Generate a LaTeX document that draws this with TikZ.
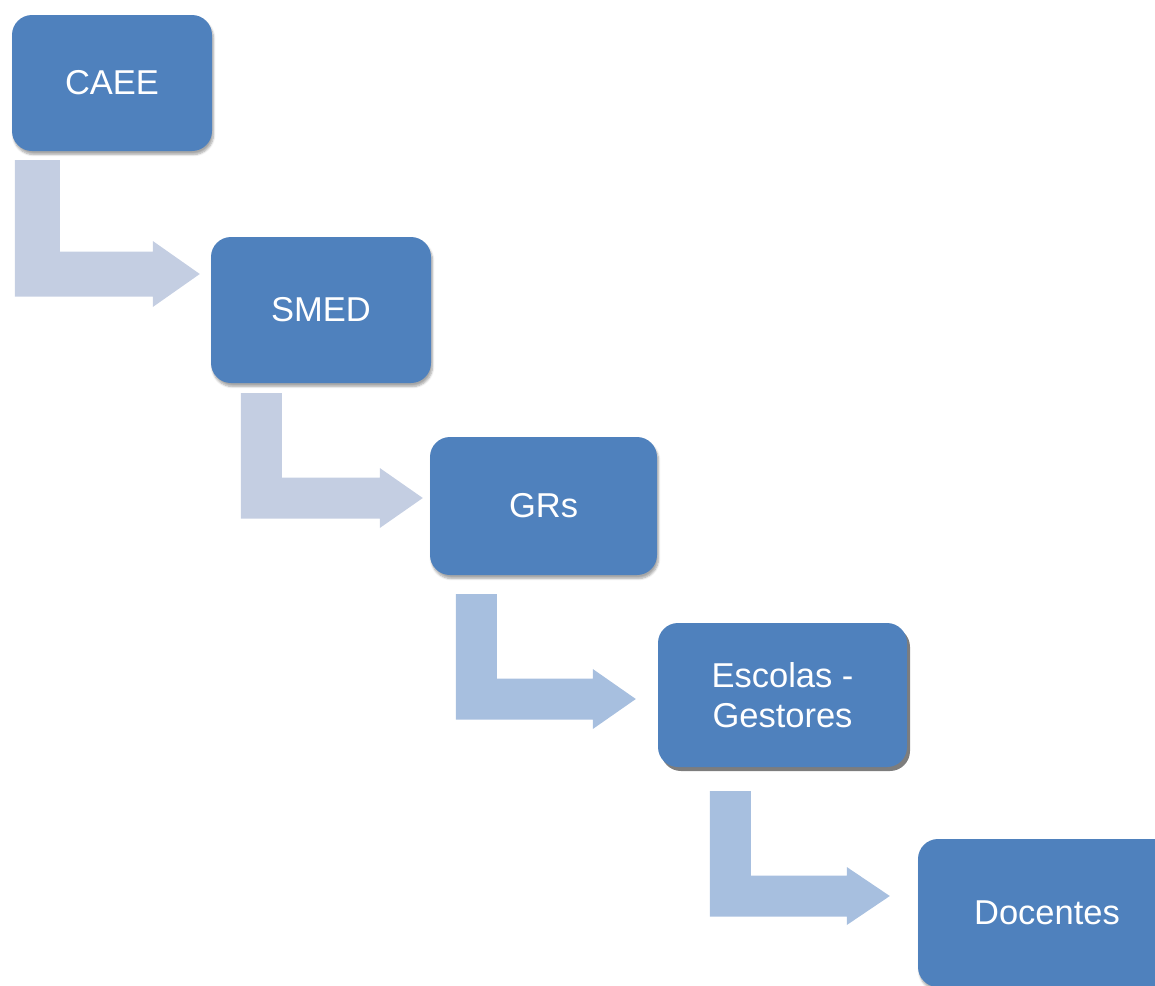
\documentclass[tikz,border=0pt]{standalone}
\usepackage{fontspec}
\setmainfont{Liberation Sans}
\usepackage{tikz}
\usetikzlibrary{calc}
\usetikzlibrary{shadows,shadows.blur}
\definecolor{boxblue}{RGB}{79,129,189}
\definecolor{arrowpale}{RGB}{196,206,226}
\definecolor{arrowblue}{RGB}{167,191,223}
\tikzset{
    % 蓝色圆角方框
    stepbox/.style={
        rectangle,
        rounded corners=20pt,
        fill=boxblue,
        text=white,
        align=center,
        inner sep=0pt,
        font=\fontsize{34.5}{40}\selectfont
    },
    softshadow/.style={
        blur shadow={shadow xshift=1.5pt, shadow yshift=-3.5pt, shadow blur steps=6, shadow opacity=35}
    },
    hardshadow/.style={
        drop shadow={shadow xshift=3pt, shadow yshift=-4pt, fill=gray!80!black, opacity=0.85}
    }
}
% 折线箭头: 颜色, 起点, 箭尖, 宽度, 箭头长, 箭头半高
\newcommand{\bentarrow}[6]{%
    \fill[#1] let \p1=(#2), \p2=(#3) in
        (\x1,\y1) -- (\x1+#4pt,\y1) -- (\x1+#4pt,\y2+#4pt/2)
        -- (\x2-#5pt,\y2+#4pt/2) -- (\x2-#5pt,\y2+#6pt) -- (\x2,\y2)
        -- (\x2-#5pt,\y2-#6pt) -- (\x2-#5pt,\y2-#4pt/2) -- (\x1,\y2-#4pt/2) -- cycle;
}
\begin{document}
\begin{tikzpicture}[x=1pt,y=-1pt]
    \useasboundingbox (0,0) rectangle (1155,985);

    % 方框
    \node[stepbox,softshadow,minimum width=200pt,minimum height=136pt] (caee) at (112,83) {CAEE};
    \node[stepbox,softshadow,minimum width=220pt,minimum height=146pt] (smed) at (321,310) {SMED};
    \node[stepbox,softshadow,minimum width=227pt,minimum height=138pt] (grs) at (543.5,506) {GRs};
    \node[stepbox,hardshadow,minimum width=249pt,minimum height=144pt] (escolas) at (782.5,695) {Escolas -\\Gestores};
    \node[stepbox,softshadow,minimum width=258pt,minimum height=148pt] (docentes) at (1047,913) {Docentes};

    % 箭头的起点和箭尖
    \path
    ($(caee.south west)+(3,9)$) coordinate (s1)
    ($(smed.west)+(-11,-36)$) coordinate (t1)
    ($(smed.south west)+(30,10)$) coordinate (s2)
    ($(grs.west)+(-7,-8)$) coordinate (t2)
    ($(grs.south west)+(26,19)$) coordinate (s3)
    ($(escolas.west)+(-22,4)$) coordinate (t3)
    ($(escolas.south west)+(52,24)$) coordinate (s4)
    ($(docentes.west)+(-28,-17)$) coordinate (t4)
    ;

    % 折线箭头
    \bentarrow{arrowpale}{s1}{t1}{45}{47}{33}
    \bentarrow{arrowpale}{s2}{t2}{41}{43}{30}
    \bentarrow{arrowblue}{s3}{t3}{41}{43}{30}
    \bentarrow{arrowblue}{s4}{t4}{41}{43}{29}
\end{tikzpicture}
\end{document}
